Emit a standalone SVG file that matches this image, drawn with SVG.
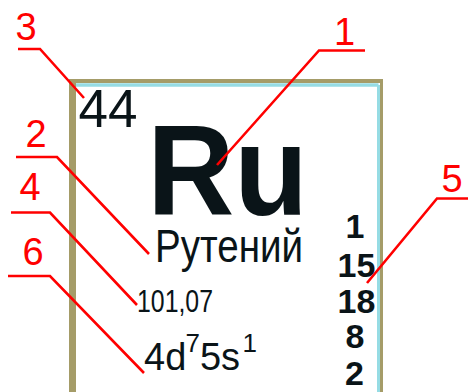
<svg xmlns="http://www.w3.org/2000/svg" width="468" height="392" viewBox="0 0 468 392">
<style>
.lbl{font-family:"Liberation Sans",Arial,sans-serif;font-size:38px;fill:#FF0000;text-anchor:middle}
.lead{fill:none;stroke:#FF0000;stroke-width:2.6;stroke-linejoin:miter}
.t{font-family:"Liberation Sans",Arial,sans-serif;fill:#0A1418}
.num{font-family:"Liberation Sans",Arial,sans-serif;font-size:34px;font-weight:bold;fill:#0A1418;text-anchor:middle}
</style>
<rect width="468" height="392" fill="#FFFFFF"/>
<g id="element">
<rect x="72.5" y="81" width="309" height="320" fill="#FFFFFF" stroke="none"/>
<line x1="76" y1="85" x2="378.5" y2="85" stroke="#96DCE4" stroke-width="3.5"/>
<line x1="378.5" y1="85" x2="378.5" y2="392" stroke="#96DCE4" stroke-width="3"/>
<line x1="69" y1="81" x2="383" y2="81" stroke="#A59C68" stroke-width="4"/>
<line x1="381.5" y1="79" x2="381.5" y2="392" stroke="#A59C68" stroke-width="3"/>
<line x1="72.5" y1="79" x2="72.5" y2="392" stroke="#A59C68" stroke-width="7"/>
</g>
<g id="atomic-number"><text class="t" x="78.5" y="127" font-size="53">44</text></g>
<g id="symbol"><text class="t" transform="translate(147.2,215) scale(0.942,1)" x="0" y="0" font-size="128" font-weight="bold" fill="#000">Ru</text></g>
<g id="name"><text class="t" x="155" y="262" font-size="47" textLength="148" lengthAdjust="spacingAndGlyphs">Рутений</text></g>
<g id="mass"><text class="t" x="137" y="312" font-size="32" textLength="76" lengthAdjust="spacingAndGlyphs">101,07</text></g>
<g id="config">
<text class="t" x="144" y="370" font-size="38">4d<tspan x="185.5" y="352" font-size="26">7</tspan><tspan x="200" y="370" font-size="38">5</tspan><tspan x="221" y="370">s</tspan><tspan x="242.5" y="352" font-size="26">1</tspan></text>
</g>
<g id="shells">
<text class="num" x="355" y="238">1</text>
<text class="num" x="356.5" y="277">15</text>
<text class="num" x="356.5" y="313">18</text>
<text class="num" x="355" y="348">8</text>
<text class="num" x="354.5" y="385">2</text>
</g>
<g id="label-1"><text class="lbl" x="344.5" y="45">1</text></g>
<g id="label-2"><text class="lbl" x="36" y="147">2</text></g>
<g id="label-3"><text class="lbl" x="26" y="40">3</text></g>
<g id="label-4"><text class="lbl" x="30" y="200">4</text></g>
<g id="label-5"><text class="lbl" x="452" y="192">5</text></g>
<g id="label-6"><text class="lbl" x="33" y="265">6</text></g>
<g id="connectors">
<polyline class="lead" points="365,50.5 319,50.5 217,165"/>
<polyline class="lead" points="16,157 57,157 149,254"/>
<polyline class="lead" points="18,49 40,49 84,98"/>
<polyline class="lead" points="11,212.5 50,212.5 137,305"/>
<polyline class="lead" points="468,198.5 437,198.5 367,283"/>
<polyline class="lead" points="8,276 50,276 144,373"/>
</g>
</svg>
